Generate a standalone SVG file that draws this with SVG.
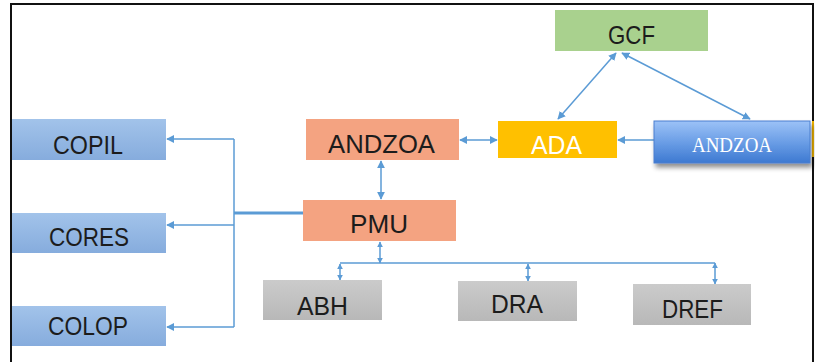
<svg xmlns="http://www.w3.org/2000/svg" width="815" height="362" viewBox="0 0 815 362">
<style>
.t{font-family:"Liberation Sans",Arial,sans-serif;font-size:26px;fill:#1c1c1c;text-anchor:middle}
.c{fill:none;stroke:#5b9bd5;stroke-width:1.5}
</style>
<defs>
<marker id="ah" viewBox="0 0 10 10" refX="9" refY="5" markerWidth="8" markerHeight="8" markerUnits="userSpaceOnUse" orient="auto-start-reverse">
<path d="M0,0 L10,5 L0,10 Z" fill="#5b9bd5"/>
</marker>
<marker id="sh" viewBox="0 0 10 10" refX="9" refY="5" markerWidth="6" markerHeight="7" markerUnits="userSpaceOnUse" orient="auto-start-reverse">
<path d="M0,0 L10,5 L0,10 Z" fill="#5b9bd5"/>
</marker>
<linearGradient id="gb" x1="0" y1="0" x2="0" y2="1">
<stop offset="0" stop-color="#a2c3ea"/><stop offset="1" stop-color="#86acdd"/>
</linearGradient>
<linearGradient id="gbd" x1="0" y1="0" x2="0" y2="1">
<stop offset="0" stop-color="#9cc2f7"/><stop offset="0.5" stop-color="#6b9ee6"/><stop offset="1" stop-color="#3d79d1"/>
</linearGradient>
<linearGradient id="gg" x1="0" y1="0" x2="0" y2="1">
<stop offset="0" stop-color="#cbcbcb"/><stop offset="1" stop-color="#b8b8b8"/>
</linearGradient>
<filter id="shd" x="-10%" y="-20%" width="130%" height="160%">
<feGaussianBlur in="SourceAlpha" stdDeviation="2.5"/>
<feOffset dx="2" dy="4" result="b"/>
<feComponentTransfer><feFuncA type="linear" slope="0.45"/></feComponentTransfer>
<feMerge><feMergeNode/><feMergeNode in="SourceGraphic"/></feMerge>
</filter>
</defs>
<rect x="0" y="0" width="815" height="362" fill="#ffffff"/>
<path d="M11,362 V4 H813 V362" fill="none" stroke="#111" stroke-width="2"/>

<g id="connectors">
<line class="c" x1="234" y1="139" x2="234" y2="327"/>
<line class="c" x1="234" y1="139" x2="167" y2="139" marker-end="url(#ah)"/>
<line class="c" x1="234" y1="225" x2="167" y2="225" marker-end="url(#ah)"/>
<line class="c" x1="234" y1="327" x2="167" y2="327" marker-end="url(#ah)"/>
<line class="c" x1="234" y1="213" x2="303" y2="213" style="stroke-width:3"/>
<line class="c" x1="381" y1="161" x2="381" y2="199" marker-start="url(#ah)" marker-end="url(#ah)"/>
<line class="c" x1="380" y1="242" x2="380" y2="263" marker-start="url(#sh)" marker-end="url(#sh)"/>
<polyline class="c" points="340,263 715,263"/>
<line class="c" x1="340" y1="264" x2="340" y2="280" marker-start="url(#sh)" marker-end="url(#sh)"/>
<line class="c" x1="528" y1="264" x2="528" y2="281" marker-start="url(#sh)" marker-end="url(#sh)"/>
<line class="c" x1="715" y1="263" x2="715" y2="284" marker-start="url(#sh)" marker-end="url(#sh)"/>
<line class="c" x1="460" y1="140" x2="497" y2="140" marker-start="url(#ah)" marker-end="url(#ah)"/>
<line class="c" x1="654" y1="140" x2="618" y2="140" marker-end="url(#ah)"/>
<line class="c" x1="616" y1="53" x2="558" y2="119" marker-start="url(#ah)" marker-end="url(#ah)"/>
<line class="c" x1="622" y1="53" x2="750" y2="119" marker-start="url(#ah)" marker-end="url(#ah)"/>
</g>

<g id="gcf"><rect x="555" y="10" width="153" height="41" fill="#a9d18e"/><text class="t" x="631.5" y="44" textLength="47" lengthAdjust="spacingAndGlyphs">GCF</text></g>
<g id="ada"><rect x="498" y="121" width="119" height="37" fill="#ffc000"/><text class="t" x="556.5" y="154" textLength="51" lengthAdjust="spacingAndGlyphs" style="fill:#ffffff">ADA</text></g>
<g id="andzoa-blue"><rect x="812" y="121" width="2" height="36" fill="#f0b400"/><rect x="654" y="121" width="156" height="42" fill="url(#gbd)" stroke="#4a7fcf" stroke-width="1" filter="url(#shd)"/><text x="732" y="152" textLength="80" lengthAdjust="spacingAndGlyphs" style="font-family:'Liberation Serif','Times New Roman',serif;font-size:21px;fill:#ffffff;text-anchor:middle">ANDZOA</text></g>
<g id="andzoa"><rect x="306" y="119" width="153" height="41" fill="#f4a381"/><text class="t" x="381.5" y="153" textLength="107" lengthAdjust="spacingAndGlyphs">ANDZOA</text></g>
<g id="pmu"><rect x="303" y="200" width="153" height="41" fill="#f4a381"/><text class="t" x="379" y="233" textLength="58" lengthAdjust="spacingAndGlyphs">PMU</text></g>
<g id="copil"><rect x="12" y="119" width="154" height="41" fill="url(#gb)"/><text class="t" x="88" y="154" textLength="70" lengthAdjust="spacingAndGlyphs">COPIL</text></g>
<g id="cores"><rect x="12" y="213" width="154" height="40" fill="url(#gb)"/><text class="t" x="89" y="246" textLength="80" lengthAdjust="spacingAndGlyphs">CORES</text></g>
<g id="colop"><rect x="12" y="306" width="154" height="40" fill="url(#gb)"/><text class="t" x="88" y="335" textLength="80" lengthAdjust="spacingAndGlyphs">COLOP</text></g>
<g id="abh"><rect x="263" y="280" width="119" height="40" fill="url(#gg)"/><text class="t" x="322.5" y="315" textLength="51" lengthAdjust="spacingAndGlyphs">ABH</text></g>
<g id="dra"><rect x="458" y="281" width="119" height="40" fill="url(#gg)"/><text class="t" x="517" y="313" textLength="52" lengthAdjust="spacingAndGlyphs">DRA</text></g>
<g id="dref"><rect x="633" y="284" width="118" height="41" fill="url(#gg)"/><text class="t" x="692.5" y="318" textLength="61" lengthAdjust="spacingAndGlyphs">DREF</text></g>
</svg>
